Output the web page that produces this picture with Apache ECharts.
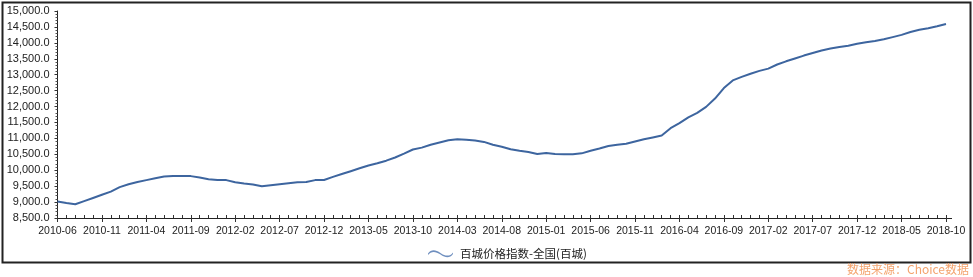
<!DOCTYPE html>
<html>
<head>
<meta charset="utf-8">
<script src="https://cdn.jsdelivr.net/npm/echarts@6/dist/echarts.min.js"></script>
<style>
html,body{margin:0;padding:0;background:#fff;}
#c{width:973px;height:277px;}
</style>
</head>
<body>
<div id="c"></div>
<script>
var categories = [
"2010-06","2010-07","2010-08","2010-09","2010-10","2010-11","2010-12",
"2011-01","2011-02","2011-03","2011-04","2011-05","2011-06","2011-07","2011-08","2011-09","2011-10","2011-11","2011-12",
"2012-01","2012-02","2012-03","2012-04","2012-05","2012-06","2012-07","2012-08","2012-09","2012-10","2012-11","2012-12",
"2013-01","2013-02","2013-03","2013-04","2013-05","2013-06","2013-07","2013-08","2013-09","2013-10","2013-11","2013-12",
"2014-01","2014-02","2014-03","2014-04","2014-05","2014-06","2014-07","2014-08","2014-09","2014-10","2014-11","2014-12",
"2015-01","2015-02","2015-03","2015-04","2015-05","2015-06","2015-07","2015-08","2015-09","2015-10","2015-11","2015-12",
"2016-01","2016-02","2016-03","2016-04","2016-05","2016-06","2016-07","2016-08","2016-09","2016-10","2016-11","2016-12",
"2017-01","2017-02","2017-03","2017-04","2017-05","2017-06","2017-07","2017-08","2017-09","2017-10","2017-11","2017-12",
"2018-01","2018-02","2018-03","2018-04","2018-05","2018-06","2018-07","2018-08","2018-09","2018-10"
];
var seriesName = "百城价格指数-全国(百城)";
var values = [
9020,8970,8930,9030,9130,9230,9330,
9470,9560,9630,9690,9750,9800,9820,9820,9815,9770,9720,9690,
9690,9620,9580,9550,9495,9530,9560,9590,9620,9630,9690,9695,
9790,9880,9970,10060,10150,10220,10300,10400,10520,10650,10710,10800,
10870,10940,10970,10960,10930,10890,10800,10740,10660,10610,10570,10510,
10540,10510,10505,10505,10530,10610,10680,10760,10800,10830,10900,10970,
11030,11090,11320,11480,11660,11800,11990,12250,12580,12820,12930,13030,
13120,13190,13320,13420,13510,13600,13680,13760,13820,13870,13910,13970,
14020,14060,14110,14180,14250,14340,14410,14460,14520,14590
];
var yMin = 8500, yMax = 15000, yStep = 500;
var sourceText = "数据来源：Choice数据";

var chart = echarts.init(document.getElementById('c'), null, {renderer:'canvas'});
var lineColor = '#3d659f';
chart.setOption({
  backgroundColor: '#fff',
  animation: false,
  grid: {left: 57.5, right: 27, top: 11, bottom: 59},
  legend: {
    left: 423, top: 243,
    itemWidth: 25, itemHeight: 9,
    icon: 'path://M0,5 C3,1 7,1 12,4.5 C17,8 21,8 24,4 L24,5.6 C21,9.6 17,9.6 12,6.1 C7,2.6 3,2.6 0,6.6 Z',
    textStyle: {fontSize: 11.5, color: '#222', fontFamily: 'Noto Sans CJK SC', padding: [0, 0, 0, 2]},
    itemStyle: {color: '#6f8fbf'},
    data: [seriesName]
  },
  xAxis: [{
    type: 'category', data: categories, boundaryGap: false,
    axisLine: {lineStyle: {color: '#222', width: 1}},
    axisTick: {show: true, interval: 0, inside: true, length: 3, lineStyle: {color: '#333'}},
    axisLabel: {interval: 4, margin: 8, fontSize: 10.5, color: '#222', fontFamily: 'Liberation Sans'},
    splitLine: {show: false}
  },{
    type: 'category', data: categories, boundaryGap: false, position: 'bottom',
    axisLine: {show: false},
    axisTick: {show: true, interval: 4, length: 4, lineStyle: {color: '#333'}},
    axisLabel: {show: false},
    splitLine: {show: false}
  }],
  yAxis: {
    type: 'value', min: yMin, max: yMax, interval: yStep,
    axisLine: {show: true, lineStyle: {color: '#222', width: 1}},
    axisTick: {show: true, length: 3, lineStyle: {color: '#333'}},
    minorTick: {show: true, splitNumber: 5, length: 2, lineStyle: {color: '#555'}},
    axisLabel: {
      margin: 8, fontSize: 11, color: '#222', fontFamily: 'Liberation Sans',
      formatter: function (v) { return v.toLocaleString('en-US', {minimumFractionDigits: 1, maximumFractionDigits: 1}); }
    },
    splitLine: {show: false}
  },
  series: [{
    name: seriesName, type: 'line', data: values, xAxisIndex: 0,
    showSymbol: false, symbol: 'none', smooth: false,
    lineStyle: {color: lineColor, width: 2},
    itemStyle: {color: lineColor}
  }],
  graphic: [
    {type: 'rect', left: 0, top: 0, shape: {x: 0.5, y: 0.5, width: 968, height: 260}, style: {fill: 'none', stroke: '#222', lineWidth: 2}, silent: true},
    {type: 'line', shape: {x1: 946, y1: 218.5, x2: 952, y2: 218.5}, style: {stroke: '#222', lineWidth: 1}, silent: true},
    {type: 'text', right: 4, top: 263, style: {text: sourceText, fill: '#f4a46e', font: '12px "Noto Sans CJK SC"'}}
  ]
});
</script>
</body>
</html>
